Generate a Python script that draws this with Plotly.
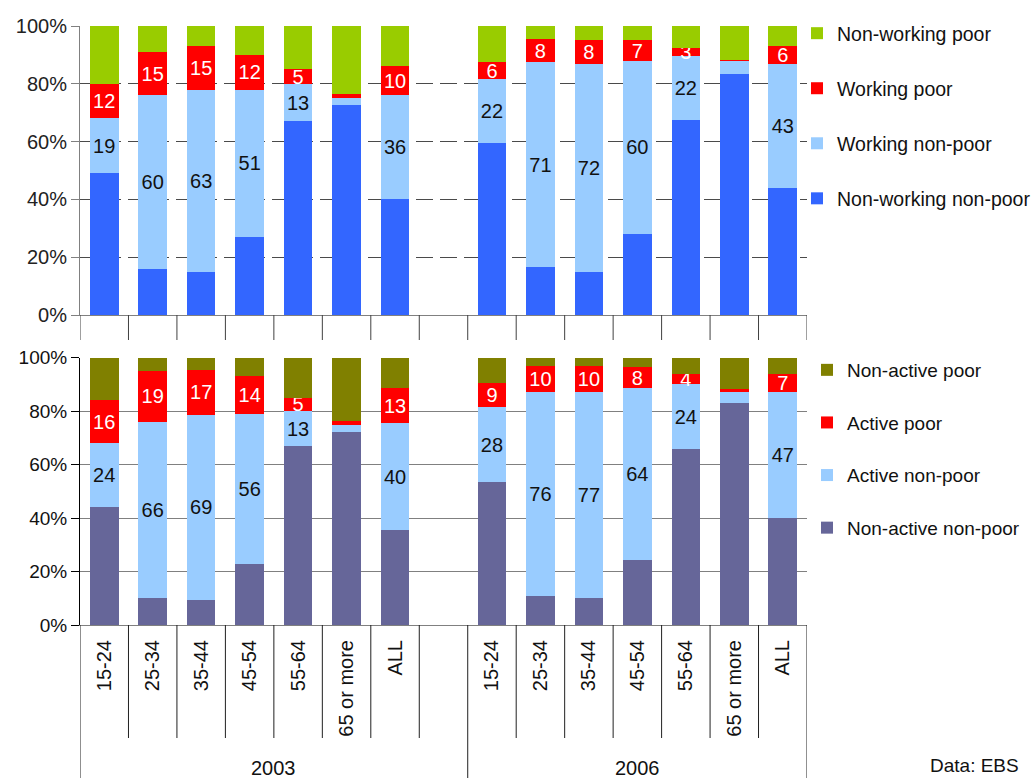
import plotly.graph_objects as go

# ---------------- data ----------------
ages = ["15-24", "25-34", "35-44", "45-54", "55-64", "65 or more", "ALL"]
years = ["2003", "2006"]

# Top panel: working status x poverty (shares, %)
nonworking_nonpoor = {"2003": [49, 16, 15, 27, 67, 72.7, 40],
                      "2006": [59.5, 16.5, 15, 28, 67.5, 83.4, 44]}
working_nonpoor = {"2003": [19, 60, 63, 51, 13, 2.4, 36],
                   "2006": [22, 71, 72, 60, 22, 4.5, 43]}
working_poor = {"2003": [12, 15, 15, 12, 5, 1.4, 10],
                "2006": [6, 8, 8, 7, 3, 0.4, 6]}
nonworking_poor = {"2003": [20, 9, 7, 10, 15, 23.5, 14],
                   "2006": [12.5, 4.5, 5, 5, 7.5, 11.7, 7]}

# Bottom panel: activity status x poverty (shares, %)
nonactive_nonpoor = {"2003": [44, 10, 9.5, 23, 67, 72.2, 35.5],
                     "2006": [53.5, 11, 10, 24.5, 66, 83, 40]}
active_nonpoor = {"2003": [24, 66, 69, 56, 13, 2.6, 40],
                  "2006": [28, 76, 77, 64, 24, 4.2, 47]}
active_poor = {"2003": [16, 19, 17, 14, 5, 1.5, 13],
               "2006": [9, 10, 10, 8, 4, 1.1, 7]}
nonactive_poor = {"2003": [16, 5, 4.5, 7, 15, 23.7, 11.5],
                  "2006": [9.5, 3, 3, 3.5, 6, 11.7, 6]}

y_ticks = [0, 20, 40, 60, 80, 100]
y_ticklabels = ["0%", "20%", "40%", "60%", "80%", "100%"]
unlabelled = ["65 or more"]
source_note = "Data: EBS"

# ---------------- styling ----------------
W, H = 1034, 778
FONT = "Liberation Sans, Arial, sans-serif"

X0, X1 = 80 / W, 807 / W
def py(p):
    return 1 - p / H

TOP_DOM = [py(315), py(26)]
BOT_DOM = [py(625), py(357.7)]

# category slots: 2003 group = 7 ages + one empty slot, 2006 group = 7 ages
slot = {}
for gi, yr in enumerate(years):
    for i, a in enumerate(ages):
        slot[(yr, a)] = gi * (len(ages) + 1) + i
n_slots = 2 * len(ages) + 1

xs = [slot[(yr, a)] for yr in years for a in ages]
ticktext = [a for yr in years for a in ages]


def flat(d):
    return [v for yr in years for v in d[yr]]


def labels(d):
    return ["" if a in unlabelled else f"{v:.0f}" for yr in years for a, v in zip(ages, d[yr])]


fig = go.Figure()

top_series = [
    ("Non-working non-poor", nonworking_nonpoor, "#3366FF", False, None),
    ("Working non-poor", working_nonpoor, "#99CCFF", True, "#111111"),
    ("Working poor", working_poor, "#FF0000", True, "#FFFFFF"),
    ("Non-working poor", nonworking_poor, "#99CC00", False, None),
]
for i, (name, d, col, lab, tcol) in enumerate(top_series):
    fig.add_trace(go.Bar(
        x=xs, y=flat(d), name=name, marker=dict(color=col, line=dict(width=0)),
        text=labels(d) if lab else None,
        textposition="inside" if lab else "none",
        insidetextanchor="middle", constraintext="none", textangle=0,
        insidetextfont=dict(family=FONT, size=20, color=tcol or "#000"),
        xaxis="x", yaxis="y", legend="legend", legendgroup=f"t{i}",
        legendrank=1000 - i, hoverinfo="skip",
    ))

bot_series = [
    ("Non-active non-poor", nonactive_nonpoor, "#666699", False, None),
    ("Active non-poor", active_nonpoor, "#99CCFF", True, "#111111"),
    ("Active poor", active_poor, "#FF0000", True, "#FFFFFF"),
    ("Non-active poor", nonactive_poor, "#808000", False, None),
]
for i, (name, d, col, lab, tcol) in enumerate(bot_series):
    fig.add_trace(go.Bar(
        x=xs, y=flat(d), name=name, marker=dict(color=col, line=dict(width=0)),
        text=labels(d) if lab else None,
        textposition="inside" if lab else "none",
        insidetextanchor="middle", constraintext="none", textangle=0,
        insidetextfont=dict(family=FONT, size=20, color=tcol or "#000"),
        xaxis="x2", yaxis="y2", legend="legend2", legendgroup=f"b{i}",
        legendrank=1000 - i, hoverinfo="skip",
    ))

# axis furniture: category dividers
shapes = []
bounds = [b - 0.5 for b in range(n_slots + 1)]
group_bounds = [-0.5, len(ages) + 0.5, n_slots - 0.5]
for b in bounds:
    shapes.append(dict(type="line", xref="x", yref="paper", x0=b, x1=b,
                       y0=py(315), y1=py(340), line=dict(color="#404040", width=1)))
    if b in group_bounds:
        shapes.append(dict(type="line", xref="x2", yref="paper", x0=b, x1=b,
                           y0=py(625), y1=0, line=dict(color="#202020", width=1)))
    else:
        shapes.append(dict(type="line", xref="x2", yref="paper", x0=b, x1=b,
                           y0=py(625), y1=py(738), line=dict(color="#202020", width=1)))

annotations = []
for gi, yr in enumerate(years):
    a, b = group_bounds[gi], group_bounds[gi + 1]
    annotations.append(dict(text=yr, x=(a + b) / 2, xref="x2", y=py(768), yref="paper",
                            showarrow=False, yanchor="middle", xanchor="center",
                            font=dict(family=FONT, size=20, color="#111")))
annotations.append(dict(text=source_note, x=928 / W, xref="paper", y=0, yref="paper",
                        showarrow=False, yanchor="bottom", xanchor="left",
                        font=dict(family=FONT, size=19, color="#111")))

common_x = dict(range=[-0.5, n_slots - 0.5], domain=[X0, X1], showgrid=False,
                zeroline=False, showline=True, linecolor="#808080", linewidth=1,
                fixedrange=True, automargin=False)

fig.update_layout(
    width=W, height=H, margin=dict(l=0, r=0, t=0, b=0, autoexpand=False),
    paper_bgcolor="white", plot_bgcolor="white",
    barmode="stack", bargap=0.41, showlegend=True,
    xaxis=dict(**common_x, anchor="y", showticklabels=False, ticks=""),
    yaxis=dict(domain=TOP_DOM, range=[0, 100], tickmode="array", tickvals=y_ticks,
               ticktext=y_ticklabels, showgrid=True, gridcolor="#4a4a4a", gridwidth=1,
               griddash="17px,7px", showline=True, linecolor="#808080", ticks="outside",
               ticklen=8, tickcolor="#808080", zeroline=False, anchor="x", automargin=False,
               tickfont=dict(family=FONT, size=20, color="#222")),
    xaxis2=dict(**common_x, anchor="y2", tickmode="array", tickvals=xs, ticktext=ticktext,
                tickangle=-90, ticks="", ticklabelstandoff=6,
                tickfont=dict(family=FONT, size=20, color="#111")),
    yaxis2=dict(domain=BOT_DOM, range=[0, 100], tickmode="array", tickvals=y_ticks,
                ticktext=y_ticklabels, showgrid=True, gridcolor="#808080", gridwidth=1,
                showline=True, linecolor="#000000", ticks="outside", ticklen=8,
                tickcolor="#000000", zeroline=False, anchor="x2", automargin=False,
                tickfont=dict(family=FONT, size=19, color="#111")),
    legend=dict(x=797 / W, y=py(14), xref="container", yref="container",
                xanchor="left", yanchor="top", tracegroupgap=26.7,
                font=dict(family=FONT, size=19.5, color="#111"), bgcolor="rgba(0,0,0,0)"),
    legend2=dict(x=807 / W, y=py(351), xref="container", yref="container",
                 xanchor="left", yanchor="top", tracegroupgap=24.9,
                 font=dict(family=FONT, size=19, color="#111"), bgcolor="rgba(0,0,0,0)"),
    shapes=shapes, annotations=annotations,
)

fig.write_html("out.html")
